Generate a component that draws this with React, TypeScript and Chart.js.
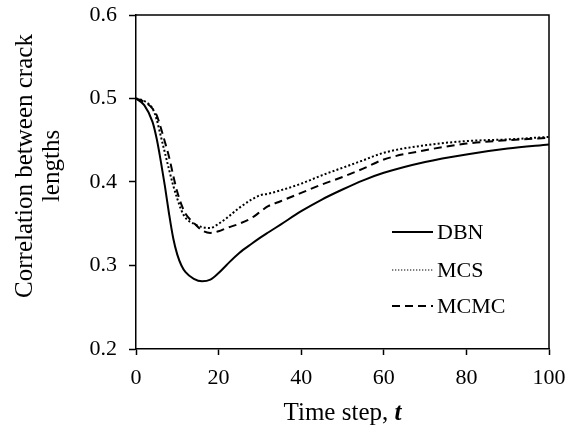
import React, { useEffect, useRef } from "react";
import { Chart, registerables } from "chart.js";

Chart.register(...registerables);

const timeSteps = [0, 2, 4, 5, 6, 7, 8, 9, 10, 11, 12, 14, 16, 18, 20, 22, 25, 28, 30, 32, 35, 40, 45, 50, 55, 60, 70, 80, 90, 100];
const dbn = [0.5, 0.492, 0.472, 0.452, 0.425, 0.395, 0.362, 0.333, 0.313, 0.3, 0.292, 0.284, 0.281, 0.283, 0.291, 0.301, 0.315, 0.326, 0.333, 0.3395, 0.349, 0.365, 0.379, 0.391, 0.402, 0.411, 0.424, 0.433, 0.44, 0.445];
const mcs = [0.5, 0.497, 0.488, 0.475, 0.455, 0.435, 0.415, 0.396, 0.38, 0.366, 0.357, 0.35, 0.346, 0.345, 0.35, 0.357, 0.369, 0.379, 0.384, 0.386, 0.39, 0.398, 0.408, 0.417, 0.426, 0.435, 0.444, 0.449, 0.451, 0.454];
const mcmc = [0.5, 0.496, 0.488, 0.48, 0.465, 0.448, 0.43, 0.408, 0.388, 0.373, 0.362, 0.351, 0.342, 0.339, 0.341, 0.345, 0.35, 0.357, 0.364, 0.371, 0.377, 0.387, 0.397, 0.406, 0.416, 0.427, 0.438, 0.446, 0.45, 0.453];
const seriesNames = ["DBN", "MCS", "MCMC"];
const yTitle = ["Correlation between crack", "lengths"];
const xTitleMain = "Time step, ";
const xTitleVar = "t";

const FONT = "'Liberation Serif', 'Times New Roman', serif";
const dashes: number[][] = [[], [2, 2.2], [8, 5]];

const framePlugin = {
  id: "frame",
  afterDraw(chart: any) {
    const { ctx, chartArea } = chart;
    const { left, right, top, bottom } = chartArea;
    ctx.save();
    ctx.strokeStyle = "#000";
    ctx.lineWidth = 1.5;
    ctx.beginPath();
    ctx.moveTo(left, top);
    ctx.lineTo(right, top);
    ctx.lineTo(right, bottom);
    ctx.stroke();

    // legend
    const lx0 = left + 256;
    const lx1 = left + 297;
    const ys = [top + 217, top + 255, top + 291];
    ctx.font = `22px ${FONT}`;
    ctx.fillStyle = "#000";
    ctx.textBaseline = "middle";
    ctx.textAlign = "left";
    seriesNames.forEach((name, i) => {
      ctx.beginPath();
      ctx.lineWidth = i === 1 ? 1.2 : 2;
      ctx.setLineDash(i === 1 ? [1.3, 1.7] : dashes[i]);
      ctx.moveTo(lx0, ys[i]);
      ctx.lineTo(lx1, ys[i]);
      ctx.stroke();
      ctx.setLineDash([]);
      ctx.fillText(name, lx1 + 4, ys[i] + 1);
    });

    // x title
    const fMain = `25px ${FONT}`;
    const fVar = `italic bold 25px ${FONT}`;
    ctx.textBaseline = "alphabetic";
    ctx.font = fMain;
    const w1 = ctx.measureText(xTitleMain).width;
    ctx.font = fVar;
    const w2 = ctx.measureText(xTitleVar).width;
    const cx = (left + right) / 2;
    const startX = cx - (w1 + w2) / 2;
    const ty = 420;
    ctx.font = fMain;
    ctx.fillText(xTitleMain, startX, ty);
    ctx.font = fVar;
    ctx.fillText(xTitleVar, startX + w1, ty);

    // y title
    ctx.save();
    ctx.translate(0, 166);
    ctx.rotate(-Math.PI / 2);
    ctx.font = `25px ${FONT}`;
    ctx.textAlign = "center";
    ctx.textBaseline = "middle";
    ctx.fillText(yTitle[0], 0, 25);
    ctx.fillText(yTitle[1], 0, 52);
    ctx.restore();

    ctx.restore();
  },
};

export default function App() {
  const ref = useRef<HTMLCanvasElement | null>(null);
  useEffect(() => {
    if (!ref.current) return;
    const mk = (vals: number[]) => timeSteps.map((t, i) => ({ x: t, y: vals[i] }));
    const chart = new Chart(ref.current, {
      type: "line",
      data: {
        datasets: [dbn, mcs, mcmc].map((vals, i) => ({
          label: seriesNames[i],
          data: mk(vals),
          borderColor: "#000",
          borderWidth: 2,
          borderDash: dashes[i],
          pointRadius: 0,
          fill: false,
          cubicInterpolationMode: "monotone" as const,
        })),
      },
      options: {
        animation: false,
        responsive: true,
        maintainAspectRatio: false,
        layout: { padding: { top: 15, right: 17, left: 0, bottom: 0 } },
        plugins: { legend: { display: false }, tooltip: { enabled: false } },
        scales: {
          x: {
            type: "linear",
            min: 0,
            max: 100,
            ticks: { stepSize: 20, color: "#000", font: { family: FONT, size: 22 }, padding: 10, maxRotation: 0 },
            grid: { drawOnChartArea: false, drawTicks: true, tickLength: 6, tickColor: "#000", tickWidth: 1.5 },
            border: { color: "#000", width: 1.5 },
            afterFit: (s: any) => { s.height = 76; s.paddingLeft = 0; s.paddingRight = 0; },
          },
          y: {
            min: 0.2,
            max: 0.6,
            ticks: { stepSize: 0.1, color: "#000", font: { family: FONT, size: 22 }, padding: 12, callback: (v: any) => Number(v).toFixed(1) },
            grid: { drawOnChartArea: false, drawTicks: true, tickLength: 7, tickColor: "#000", tickWidth: 1.5 },
            border: { color: "#000", width: 1.5 },
            afterFit: (s: any) => { s.width = 136; s.paddingTop = 0; s.paddingBottom = 0; },
          },
        },
      },
      plugins: [framePlugin],
    } as any);
    return () => chart.destroy();
  }, []);
  return (
    <div style={{ position: "absolute", left: 0, top: 0, width: 566, height: 425, background: "#fff" }}>
      <canvas ref={ref} />
    </div>
  );
}
